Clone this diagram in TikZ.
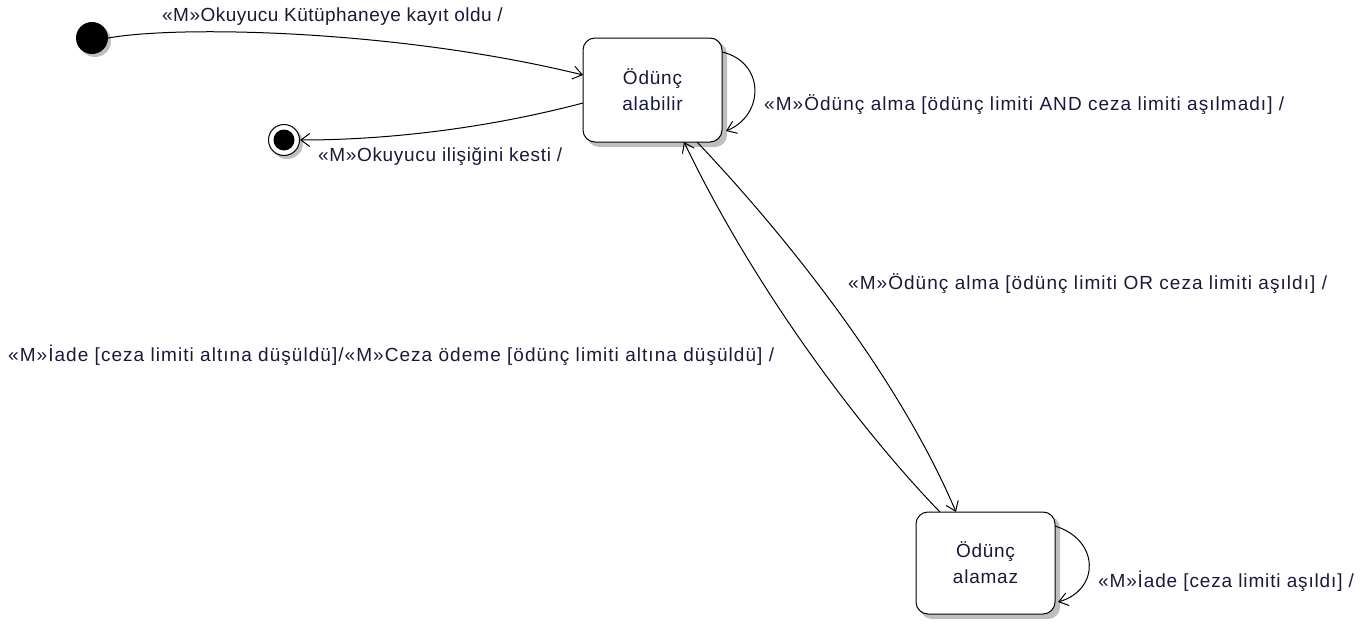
\documentclass[tikz,border=0pt]{standalone}
\usepackage{fontspec}
\setmainfont{Liberation Sans}
\usetikzlibrary{arrows.meta,calc}
\definecolor{txt}{RGB}{25,25,60}
\definecolor{shad}{RGB}{190,190,190}
\tikzset{
  x=1pt,y=-1pt,
  lbl/.style={font=\fontsize{19}{21}\selectfont\addfontfeatures{LetterSpace=#1},text=txt,inner sep=0pt},
  lbl/.default=5.5,
  statebox/.style={draw,line width=1pt,rounded corners=12pt,minimum width=139pt,minimum height=104pt,fill=white,align=center,font=\fontsize{19}{26}\selectfont\addfontfeatures{LetterSpace=4},text=txt},
  trans/.style={draw,line width=1pt,-{Straight Barb[length=9pt,width=13pt,line width=1pt]}},
}
\begin{document}
\begin{tikzpicture}
\useasboundingbox (0,0) rectangle (1370,624);
% shadows
\fill[shad,rounded corners=12pt] (587,42) rectangle (727,147);
\fill[shad,rounded corners=12pt] (920,516) rectangle (1060,619);
\fill[shad] (95,41) circle (16);
\fill[shad] (287,143) circle (16);
% nodes
\node[statebox] (alab) at (652.5,90) {Ödünç\\alabilir};
\node[statebox,minimum height=102pt] (alam) at (985.5,563) {Ödünç\\alamaz};
\node[circle,fill=black,minimum size=32pt,inner sep=0pt] (init) at (92,38) {};
\node[circle,draw,line width=1pt,fill=white,minimum size=31pt,inner sep=0pt] (fin) at (284,140) {};
\node[circle,fill=black,minimum size=21pt,inner sep=0pt] (finin) at (fin) {};
% endpoints
\coordinate (a1) at (583,75);
\coordinate (a2) at (583,103);
\coordinate (a3) at (722,52);
\coordinate (a4) at (726,131);
\coordinate (a5) at (684,142);
\coordinate (a6) at (697,142);
\coordinate (b1) at (940,512);
\coordinate (b2) at (956,512);
\coordinate (b3) at (1055,526);
\coordinate (b4) at (1058,602);
% transitions
\draw[trans] (init.east) .. controls (180,25) and (400,30) .. (a1);
\draw[trans] (a2) .. controls (500,125) and (400,140) .. (fin.east);
\draw[trans] (a3) .. controls (765,62) and (765,115) .. (a4);
\draw[trans] (b1) .. controls (870,440) and (760,300) .. (a5);
\draw[trans] (a6) .. controls (790,240) and (900,380) .. (b2);
\draw[trans] (b3) .. controls (1100,540) and (1100,590) .. (b4);
% labels
\node[lbl=2.5,anchor=west] at (162,17) {«M»Okuyucu Kütüphaneye kayıt oldu /};
\node[lbl=3.5,anchor=west] at (318,157) {«M»Okuyucu ilişiğini kesti /};
\node[lbl,anchor=west] at (764,105) {«M»Ödünç alma [ödünç limiti AND ceza limiti aşılmadı] /};
\node[lbl,anchor=west] at (848,284) {«M»Ödünç alma [ödünç limiti OR ceza limiti aşıldı] /};
\node[lbl,anchor=west] at (8,355) {«M»İade [ceza limiti altına düşüldü]/«M»Ceza ödeme [ödünç limiti altına düşüldü] /};
\node[lbl=4.5,anchor=west] at (1098,581) {«M»İade [ceza limiti aşıldı] /};
\end{tikzpicture}
\end{document}
